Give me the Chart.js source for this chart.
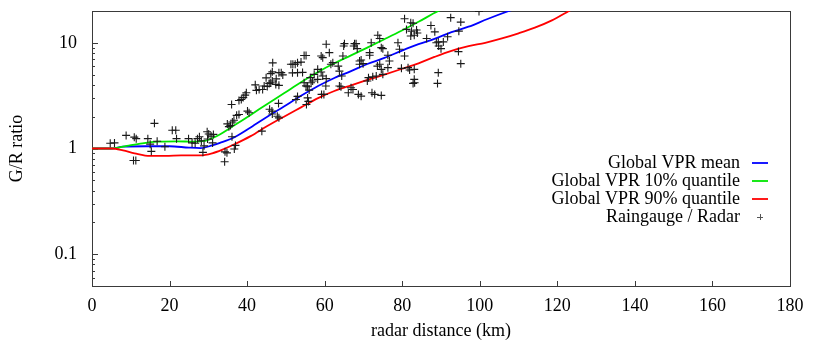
<!DOCTYPE html>
<html>
<head>
<meta charset="utf-8">
<title>G/R ratio vs radar distance</title>
<script src="https://cdn.jsdelivr.net/npm/chart.js@4.4.1/dist/chart.umd.min.js"></script>
<style>
  html, body { margin: 0; padding: 0; background: #fff; }
  #wrap { width: 816px; height: 342px; }
</style>
</head>
<body>
<div id="wrap"><canvas id="vprChart" width="816" height="342"></canvas></div>
<script>
// Global VPR curves (distance in km, G/R ratio)
const meanDist  = [0, 5, 8, 14, 20, 25, 28, 31, 33, 36.6, 40.9, 45.2, 49.5, 53.9, 58.3, 62.5, 66.8, 71, 75.4, 79.8, 84.2, 88.3, 92.7, 97.1, 102, 107.5, 110];
const meanRatio = [1, 1, 1.04, 1.05, 1.05, 1.02, 1.01, 1.07, 1.13, 1.27, 1.58, 2.0, 2.5, 3.15, 3.9, 4.65, 5.4, 6.3, 7.2, 8.4, 9.7, 10.9, 12.6, 14.2, 16.8, 20, 21.5];

const q10Dist  = [0, 5, 9, 13, 17, 22, 26, 29, 32, 36.6, 40.9, 45.2, 49.5, 53.9, 58.3, 62.5, 66.8, 71, 75.4, 79.8, 84.2, 89.3, 92];
const q10Ratio = [1, 1, 1.06, 1.12, 1.16, 1.17, 1.16, 1.18, 1.3, 1.65, 2.08, 2.64, 3.33, 4.24, 5.3, 6.4, 7.6, 9.0, 10.8, 13.0, 15.8, 20, 22];

const q90Dist  = [0, 5, 8, 11, 15, 19, 23, 28, 31, 33.5, 36.6, 40.9, 45.2, 49.5, 53.9, 58.3, 62.5, 66.8, 71, 75.4, 79.8, 84.2, 88.3, 92.7, 97.1, 101.4, 105.7, 110, 114.2, 118.6, 123, 125];
const q90Ratio = [1, 1, 0.96, 0.9, 0.85, 0.85, 0.86, 0.86, 0.9, 0.97, 1.09, 1.31, 1.63, 2.0, 2.45, 3.0, 3.5, 3.96, 4.45, 5.0, 5.65, 6.4, 7.35, 8.4, 9.3, 10.0, 11.0, 12.3, 13.9, 16.3, 20, 22];

// Raingauge / Radar observations
const gaugeDist = [
  4.7, 5.8, 8.8, 10.9, 11.4, 10.7, 11.3, 14.4, 15.0, 15.3, 16.1, 16.8, 18.8, 20.7, 21.6, 21.8,
  24.9, 25.8, 26.6, 27.2, 27.7, 28.2, 28.6, 28.9, 29.7, 30.1, 29.8, 30.7, 31.1, 31.3,
  34.2, 34.3, 34.8, 36.1, 36.7, 37.0, 34.9, 35.3, 35.7, 36.2, 36.6, 37.3, 37.9, 36.0, 37.9, 38.5,
  39.0, 39.5, 39.8, 40.1, 40.5, 42.1, 42.4, 43.1, 44.0, 44.4, 44.9, 45.2, 45.7, 46.1, 46.1, 46.5,
  46.6, 46.5, 47.4, 47.5, 48.2, 48.2, 48.8, 49.2, 43.8, 45.8, 46.4, 46.5, 47.8, 48.1, 48.2,
  51.3, 51.8, 52.4, 53.0, 53.9, 54.7, 55.2, 51.7, 53.0, 54.3, 52.6, 53.0, 54.7, 55.2, 55.6, 56.0,
  56.3, 56.5, 56.9, 55.6, 55.8, 55.3, 58.2, 58.2, 59.1, 59.5, 60.4, 59.2, 59.8, 60.4, 61.2, 62.1,
  63.5, 63.8, 64.4, 64.7, 63.8, 64.2, 65.1, 64.9, 59.1, 59.5, 61.6, 57.3, 60.3,
  67.7, 68.1, 67.5, 68.4, 69.0, 69.4, 69.0, 69.9, 66.8, 66.1, 68.7, 69.4, 71.6, 71.6, 73.7, 74.2,
  73.6, 74.2, 74.6, 75.0, 71.3, 72.4, 73.3, 71.0, 74.6, 75.0, 72.2, 72.9, 74.6, 76.3, 76.7, 78.9,
  79.3, 76.3, 72.0, 67.3, 80.6, 82.2, 82.8, 81.1, 82.4, 83.7, 83.9, 83.1, 82.2, 87.4, 88.4, 92.5,
  95.1, 94.6, 91.7, 90.6, 89.3, 89.4, 90.0, 86.3, 88.8, 99.8, 80.6, 79.8, 81.5, 81.9, 83.1, 83.1,
  83.2, 82.8, 89.3, 89.1, 94.5, 95.1
];
const gaugeRatio = [
  1.12, 1.13, 1.33, 1.28, 1.24, 0.77, 0.77, 1.24, 1.10, 0.94, 1.73, 1.17, 1.04, 1.49, 1.49, 1.24,
  1.24, 1.13, 1.12, 1.24, 1.29, 1.18, 0.92, 1.06, 1.44, 1.37, 1.23, 1.31, 1.13, 1.36,
  0.75, 0.93, 0.91, 1.29, 0.99, 1.07, 1.71, 1.61, 1.65, 1.78, 1.85, 2.06, 2.10, 2.61, 2.85, 2.91,
  3.03, 3.20, 3.37, 2.26, 2.18, 4.00, 3.55, 3.62, 3.62, 3.90, 4.66, 3.87, 4.13, 4.19, 5.11, 5.31,
  6.46, 4.35, 4.04, 4.56, 3.96, 5.22, 5.22, 4.97, 1.46, 2.35, 2.26, 2.12, 2.02, 2.67, 1.95,
  6.26, 6.26, 6.26, 6.49, 6.57, 7.58, 7.58, 5.20, 5.22, 5.25, 2.91, 3.11, 4.19, 3.91, 3.84, 3.57,
  4.68, 4.19, 4.35, 3.01, 2.79, 2.61, 4.51, 5.61, 5.29, 4.85, 4.58, 3.25, 3.25, 9.68, 8.07, 6.49,
  6.02, 5.40, 4.85, 7.50, 3.90, 3.84, 9.82, 9.34, 7.50, 7.24, 6.26, 5.03, 3.90,
  9.82, 9.82, 9.34, 8.81, 6.72, 6.87, 6.26, 6.35, 3.76, 3.37, 3.25, 3.13, 8.07, 7.62, 11.8, 11.0,
  6.02, 6.26, 5.61, 5.03, 4.68, 4.77, 4.85, 4.35, 9.00, 8.81, 3.37, 3.25, 3.18, 7.62, 6.72, 10.0,
  8.68, 5.82, 10.0, 3.62, 16.9, 15.5, 15.3, 13.4, 12.9, 13.2, 12.4, 11.8, 11.6, 14.6, 12.7, 17.3,
  15.7, 12.9, 11.4, 10.2, 10.2, 9.34, 8.81, 11.0, 10.0, 19.8, 7.50, 5.73, 5.82, 5.53, 5.61, 4.51,
  4.19, 4.13, 5.22, 4.13, 8.26, 6.35
];

// Axes
const xMin = 0, xMax = 180, xStep = 20;
const yMin = 0.05, yMax = 20;
const yTickValues = [0.1, 1, 10];

const toPoints = (xs, ys) => xs.map((x, i) => ({ x: x, y: ys[i] }));

const FONT = '"Liberation Serif", "Times New Roman", serif';
Chart.defaults.font.family = FONT;
Chart.defaults.font.size = 18;
Chart.defaults.color = "#000";

// Border box and inward ticks, gnuplot style
const gnuplotFrame = {
  id: "gnuplotFrame",
  beforeDatasetsDraw(chart) {
    const { ctx, chartArea: a, scales } = chart;
    const x = scales.x, y = scales.y;
    ctx.save();
    ctx.strokeStyle = "#3a3a3a";
    ctx.lineWidth = 1;
    ctx.strokeRect(a.left + 0.5, a.top + 0.5, a.right - a.left, a.bottom - a.top);
    ctx.beginPath();
    for (let e = -2; e <= 1; e++) {
      for (let k = 1; k <= 9; k++) {
        const v = k * Math.pow(10, e);
        if (v < yMin * 0.999 || v > yMax * 1.001) continue;
        const py = Math.round(y.getPixelForValue(v)) + 0.5;
        ctx.moveTo(a.left, py);
        ctx.lineTo(a.left + (k === 1 ? 6 : 3), py);
      }
    }
    x.ticks.forEach((t) => {
      const px = Math.round(x.getPixelForValue(t.value)) + 0.5;
      ctx.moveTo(px, a.bottom);
      ctx.lineTo(px, a.bottom - 5);
    });
    ctx.stroke();
    ctx.restore();
  },
};

// Key at the right, text right-aligned with sample after it
const gnuplotKey = {
  id: "gnuplotKey",
  afterDraw(chart) {
    const ctx = chart.ctx;
    const textRight = 740, sampleLeft = 752, sampleRight = 768;
    let y = 163;
    ctx.save();
    ctx.font = "18px " + FONT;
    ctx.textAlign = "right";
    ctx.textBaseline = "middle";
    chart.data.datasets.forEach((ds) => {
      ctx.fillStyle = "#000";
      ctx.fillText(ds.label, textRight, y);
      ctx.beginPath();
      if (ds.showLine === false) {
        const cx = (sampleLeft + sampleRight) / 2;
        ctx.strokeStyle = "#555";
        ctx.lineWidth = 1;
        ctx.moveTo(cx - 3, y + 0.5);
        ctx.lineTo(cx + 3, y + 0.5);
        ctx.moveTo(cx + 0.5, y - 3);
        ctx.lineTo(cx + 0.5, y + 3);
      } else {
        ctx.strokeStyle = ds.borderColor;
        ctx.lineWidth = ds.borderWidth;
        ctx.moveTo(sampleLeft, y);
        ctx.lineTo(sampleRight, y);
      }
      ctx.stroke();
      y += 18;
    });
    ctx.restore();
  },
};

const curve = (label, xs, ys, color, order) => ({
  label: label,
  data: toPoints(xs, ys),
  showLine: true,
  borderColor: color,
  backgroundColor: color,
  borderWidth: 1.8,
  pointRadius: 0,
  cubicInterpolationMode: "monotone",
  order: order,
});

new Chart(document.getElementById("vprChart"), {
  type: "scatter",
  data: {
    datasets: [
      curve("Global VPR mean", meanDist, meanRatio, "#0000ff", 3),
      curve("Global VPR 10% quantile", q10Dist, q10Ratio, "#00e600", 2),
      curve("Global VPR 90% quantile", q90Dist, q90Ratio, "#ff0000", 1),
      {
        label: "Raingauge / Radar",
        data: toPoints(gaugeDist, gaugeRatio),
        showLine: false,
        pointStyle: "cross",
        pointRadius: 4,
        pointBorderWidth: 1.1,
        borderColor: "#1a1a1a",
        backgroundColor: "#1a1a1a",
        order: 0,
      },
    ],
  },
  options: {
    responsive: false,
    animation: false,
    layout: { padding: { top: 11, right: 26, left: 0, bottom: 0 } },
    plugins: {
      legend: { display: false },
      tooltip: { enabled: false },
    },
    scales: {
      x: {
        type: "linear",
        min: xMin,
        max: xMax,
        grid: { display: false },
        border: { display: false },
        ticks: { stepSize: xStep, padding: 1, maxRotation: 0 },
        title: { display: true, text: "radar distance (km)", padding: { top: 0, bottom: 0 } },
        afterFit(scale) {
          scale.height = 56;
          scale.paddingLeft = 0;
          scale.paddingRight = 0;
        },
      },
      y: {
        type: "logarithmic",
        min: yMin,
        max: yMax,
        grid: { display: false },
        border: { display: false },
        ticks: {
          padding: 7,
          callback: (v) => String(v),
        },
        afterBuildTicks(scale) {
          scale.ticks = yTickValues.map((v) => ({ value: v }));
        },
        title: { display: true, text: "G/R ratio", padding: { top: 6, bottom: 0 } },
        afterFit(scale) {
          scale.width = 92;
          scale.paddingTop = 0;
          scale.paddingBottom = 0;
        },
      },
    },
  },
  plugins: [gnuplotFrame, gnuplotKey],
});
</script>
</body>
</html>
